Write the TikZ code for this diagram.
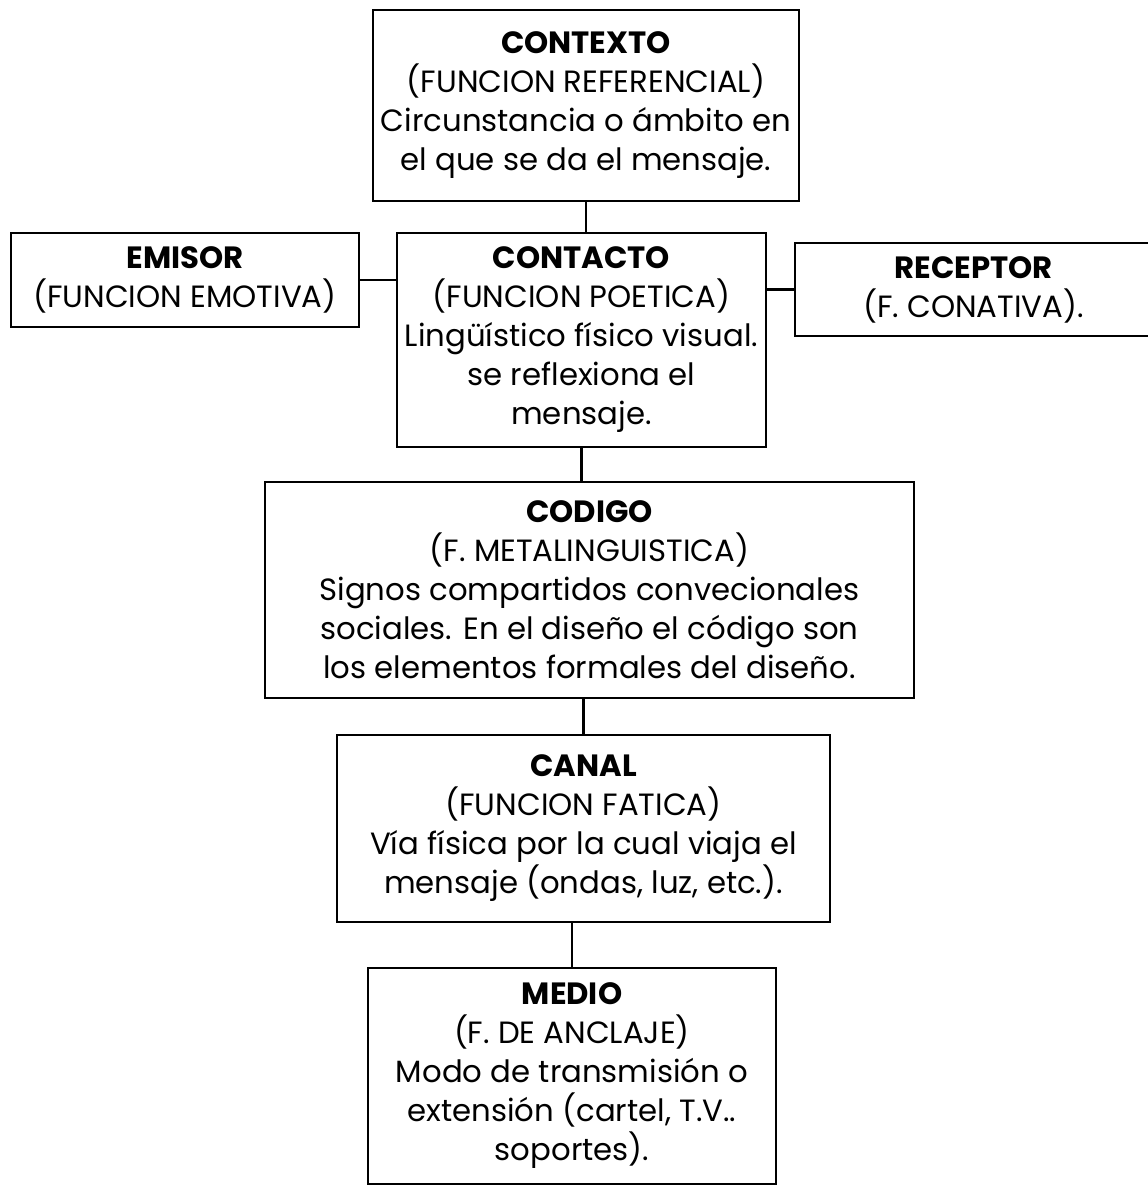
\documentclass[tikz,border=0pt]{standalone}
\usepackage{fontspec}
\setmainfont{Poppins}
\usepackage{tikz}

\begin{document}
\begin{tikzpicture}[x=0.02cm, y=-0.02cm,
        hop/.style={draw, line width=1.1pt, align=center, inner sep=0pt,
            font=\fontsize{17.5}{22.2}\selectfont},
        noi/.style={line width=1.2pt}]
        \useasboundingbox (0,0) rectangle (1148,1188);

        % Hộp trên cùng
        \node[hop, minimum width=8.52cm, minimum height=3.82cm] (contexto) at (586,105.5)
            {\textbf{CONTEXTO}\\(FUNCION REFERENCIAL)\\Circunstancia o ámbito en\\el que se da el mensaje.};

        % Hàng giữa: emisor - contacto - receptor
        \node[hop, minimum width=6.96cm, minimum height=1.88cm] (emisor) at (185,280)
            {\textbf{EMISOR}\\(FUNCION EMOTIVA)};
        \node[hop, minimum width=7.38cm, minimum height=4.28cm] (contacto) at (581.5,340)
            {\textbf{CONTACTO}\\(FUNCION POETICA)\\Lingüístico físico visual.\\se reflexiona el\\mensaje.};
        \node[hop, minimum width=7.14cm, minimum height=1.86cm] (receptor) at (973.5,289.5)
            {\textbf{RECEPTOR}\\(F. CONATIVA).};

        % Các hộp phía dưới
        \node[hop, minimum width=12.98cm, minimum height=4.32cm] (codigo) at (589.5,590)
            {\textbf{CODIGO}\\(F. METALINGUISTICA)\\Signos compartidos convecionales\\sociales. En el diseño el código son\\los elementos formales del diseño.};
        \node[hop, minimum width=9.86cm, minimum height=3.74cm] (canal) at (583.5,828.5)
            {\textbf{CANAL}\\(FUNCION FATICA)\\Vía física por la cual viaja el\\mensaje (ondas, luz, etc.).};
        \node[hop, minimum width=8.16cm, minimum height=4.32cm] (medio) at (572,1076)
            {\textbf{MEDIO}\\(F. DE ANCLAJE)\\Modo de transmisión o\\extensión (cartel, T.V..\\soportes).};

        % Các đường nối
        \draw[noi] (contexto.south) -- (contexto.south |- contacto.north);
        \draw[noi] (emisor.east) -- (emisor.east -| contacto.west);
        \draw[noi] (receptor.west) -- (receptor.west -| contacto.east);
        \draw[noi] (contacto.south) -- (contacto.south |- codigo.north);
        \draw[noi] (canal.north) -- (canal.north |- codigo.south);
        \draw[noi] (medio.north) -- (medio.north |- canal.south);
\end{tikzpicture}
\end{document}
